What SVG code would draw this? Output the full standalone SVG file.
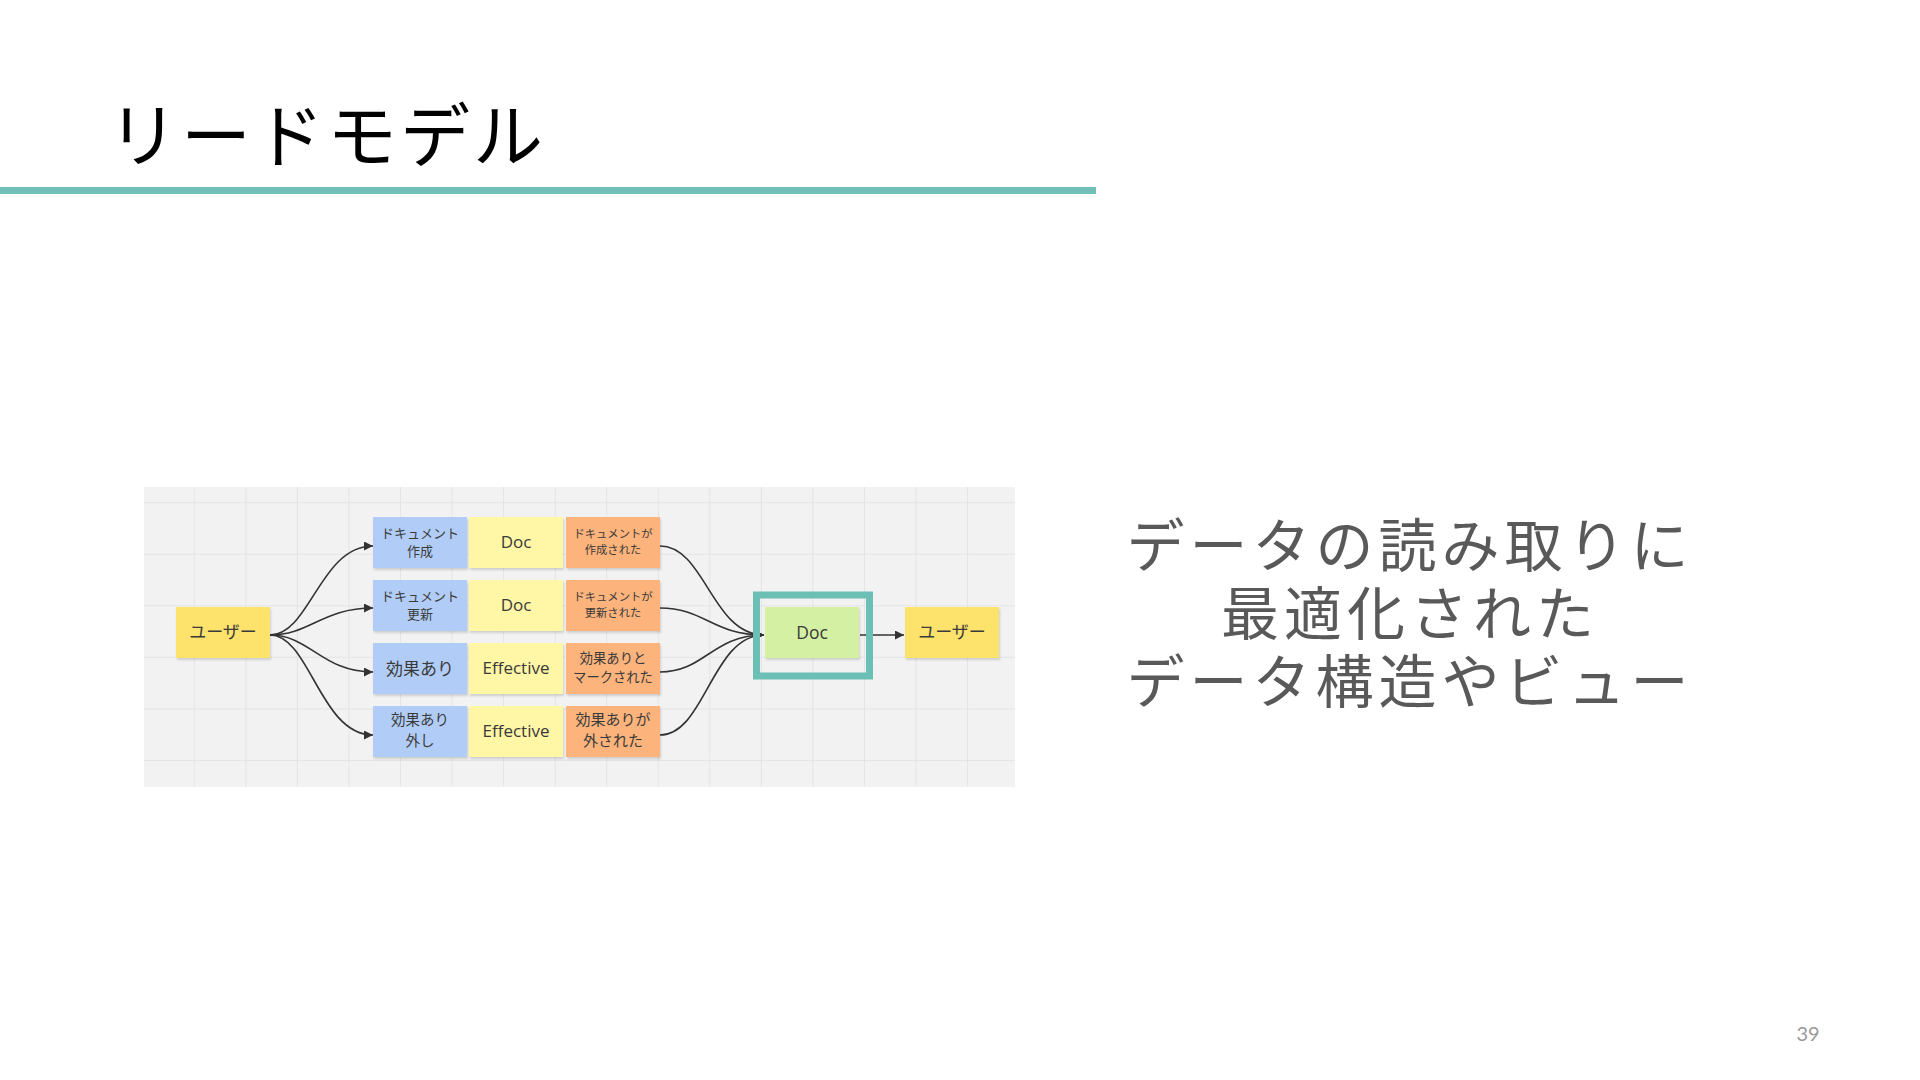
<svg xmlns="http://www.w3.org/2000/svg" width="1920" height="1080" viewBox="0 0 1920 1080">
<style>
.jp{font-family:"Noto Sans CJK JP","Noto Sans",sans-serif}
.lbl{font-family:"Open Sans","Noto Sans CJK JP",sans-serif;fill:#3a3a3a;text-anchor:middle}
.note{filter:url(#sh)}
.blue{fill:#b1cdf7}
.yel{fill:#fff6a6}
.org{fill:#fdb37c}
.usr{fill:#fde36c}
.grn{fill:#d4f0a2}
.con{fill:none;stroke:#333;stroke-width:1.6}
.grid{stroke:#e4e4e4;stroke-width:1;fill:none}
</style>
<defs>
<filter id="sh" x="-10%" y="-10%" width="130%" height="140%">
<feDropShadow dx="1" dy="2" stdDeviation="1.2" flood-color="#000" flood-opacity="0.15"/>
</filter>
<marker id="ah" viewBox="0 0 10 10" refX="10" refY="5" markerUnits="userSpaceOnUse" markerWidth="9" markerHeight="9" orient="auto">
<path d="M0,0 L10,5 L0,10 z" fill="#333"/>
</marker>
</defs>
<rect width="1920" height="1080" fill="#ffffff"/>
<text class="jp" x="108" y="162" font-size="70" letter-spacing="3" fill="#000">リードモデル</text>
<rect x="0" y="187" width="1096" height="7" fill="#6fbfb6"/>

<g id="board">
<rect x="144" y="487" width="871" height="300" fill="#f2f2f2"/>
<path class="grid" d="M194.3,487V787M245.9,487V787M297.4,487V787M349,487V787M400.5,487V787M452,487V787M503.6,487V787M555.2,487V787M606.7,487V787M658.3,487V787M709.8,487V787M761.4,487V787M812.9,487V787M864.5,487V787M916,487V787M967.6,487V787M144,502.7H1015M144,554.2H1015M144,605.8H1015M144,657.3H1015M144,708.9H1015M144,760.4H1015"/>
</g>

<g id="connectors">
<path class="con" marker-end="url(#ah)" d="M270,635 C310,635 320,546 373,546"/>
<path class="con" marker-end="url(#ah)" d="M270,635 C310,635 322,608 373,608"/>
<path class="con" marker-end="url(#ah)" d="M270,635 C310,635 322,672 373,672"/>
<path class="con" marker-end="url(#ah)" d="M270,635 C310,635 320,735 373,735"/>
<path class="con" marker-end="url(#ah)" d="M660,546 C705,546 712,635 764,635"/>
<path class="con" marker-end="url(#ah)" d="M660,608 C705,608 712,635 764,635"/>
<path class="con" marker-end="url(#ah)" d="M660,672 C705,672 712,635 764,635"/>
<path class="con" marker-end="url(#ah)" d="M660,735 C705,735 712,635 764,635"/>
<path class="con" marker-end="url(#ah)" d="M860,635 L904,635"/>
</g>

<g id="user-left"><rect class="note usr" x="176" y="607" width="94" height="51"/><text class="lbl" x="223" y="638" font-size="17">ユーザー</text></g>

<g id="b1"><rect class="note blue" x="373" y="517" width="94" height="51"/><text class="lbl" x="420" y="538" font-size="13">ドキュメント</text><text class="lbl" x="420" y="556" font-size="13">作成</text></g>
<g id="b2"><rect class="note blue" x="373" y="580" width="94" height="51"/><text class="lbl" x="420" y="601" font-size="13">ドキュメント</text><text class="lbl" x="420" y="619" font-size="13">更新</text></g>
<g id="b3"><rect class="note blue" x="373" y="643" width="94" height="51"/><text class="lbl" x="420" y="675" font-size="17">効果あり</text></g>
<g id="b4"><rect class="note blue" x="373" y="706" width="94" height="51"/><text class="lbl" x="420" y="725" font-size="14.5">効果あり</text><text class="lbl" x="420" y="746" font-size="14.5">外し</text></g>

<g id="y1"><rect class="note yel" x="469" y="517" width="94" height="51"/><text class="lbl" x="516" y="548" font-size="17">Doc</text></g>
<g id="y2"><rect class="note yel" x="469" y="580" width="94" height="51"/><text class="lbl" x="516" y="611" font-size="17">Doc</text></g>
<g id="y3"><rect class="note yel" x="469" y="643" width="94" height="51"/><text class="lbl" x="516" y="674" font-size="17">Effective</text></g>
<g id="y4"><rect class="note yel" x="469" y="706" width="94" height="51"/><text class="lbl" x="516" y="737" font-size="17">Effective</text></g>

<g id="o1"><rect class="note org" x="566" y="517" width="94" height="51"/><text class="lbl" x="613" y="537.5" font-size="11.3">ドキュメントが</text><text class="lbl" x="613" y="554" font-size="11.3">作成された</text></g>
<g id="o2"><rect class="note org" x="566" y="580" width="94" height="51"/><text class="lbl" x="613" y="600.5" font-size="11.3">ドキュメントが</text><text class="lbl" x="613" y="617" font-size="11.3">更新された</text></g>
<g id="o3"><rect class="note org" x="566" y="643" width="94" height="51"/><text class="lbl" x="613" y="662.5" font-size="13.3">効果ありと</text><text class="lbl" x="613" y="681.5" font-size="13.3">マークされた</text></g>
<g id="o4"><rect class="note org" x="566" y="706" width="94" height="51"/><text class="lbl" x="613" y="724.5" font-size="15">効果ありが</text><text class="lbl" x="613" y="745.5" font-size="15">外された</text></g>

<g id="doc"><rect class="note grn" x="765" y="607" width="94" height="51"/><text class="lbl" x="812" y="638.5" font-size="17.5">Doc</text></g>
<g id="frame"><rect x="756.5" y="595" width="113" height="81" fill="none" stroke="#6bbfb5" stroke-width="7"/></g>
<g id="user-right"><rect class="note usr" x="905" y="607" width="94" height="51"/><text class="lbl" x="952" y="638" font-size="17">ユーザー</text></g>

<g id="caption" class="jp" fill="#595959" font-size="58" letter-spacing="5" text-anchor="middle">
<text x="1410" y="567">データの読み取りに</text>
<text x="1410" y="635">最適化された</text>
<text x="1410" y="703">データ構造やビュー</text>
</g>
<text x="1808" y="1041" font-family="Lato, 'Open Sans', sans-serif" font-size="20" fill="#9a9a9a" text-anchor="middle">39</text>
</svg>
